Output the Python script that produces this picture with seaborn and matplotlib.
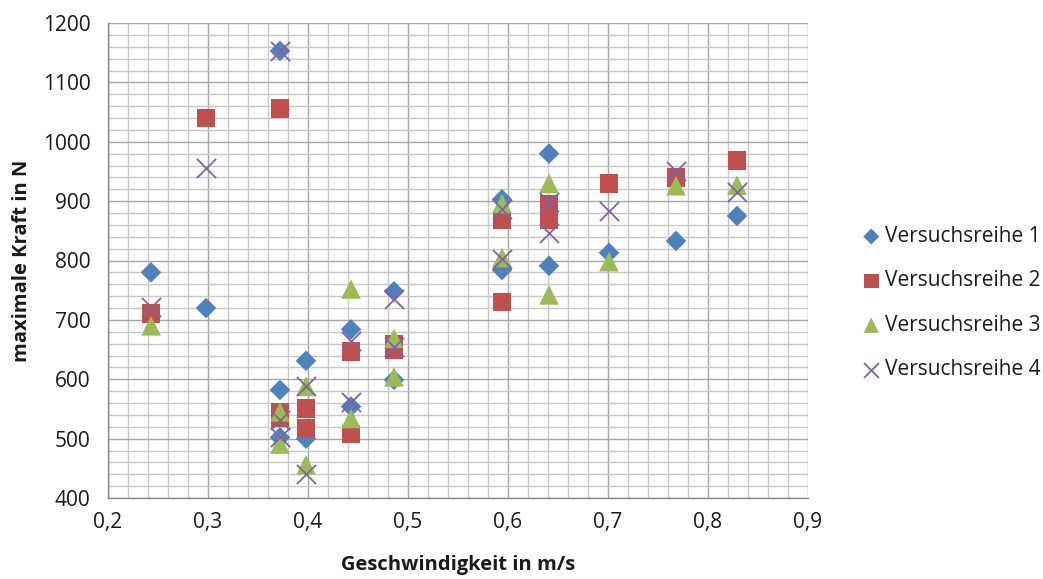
import matplotlib
matplotlib.use("Agg")
import matplotlib.pyplot as plt
from matplotlib.ticker import MultipleLocator, FuncFormatter
import seaborn as sns
import pandas as pd

# Geschwindigkeit (m/s) und maximale Kraft (N) je Versuchsreihe
x_r1 = [0.243, 0.298, 0.372, 0.372, 0.372, 0.398, 0.398, 0.443, 0.443,
        0.486, 0.486, 0.594, 0.594, 0.641, 0.641, 0.701, 0.768, 0.829]
y_r1 = [780, 720, 1153, 582, 502, 631, 500, 684, 554,
        748, 599, 903, 784, 980, 791, 813, 833, 875]

x_r2 = [0.243, 0.298, 0.372, 0.372, 0.372, 0.398, 0.398, 0.443, 0.443,
        0.486, 0.486, 0.594, 0.594, 0.641, 0.641, 0.701, 0.768, 0.829]
y_r2 = [711, 1040, 1056, 545, 535, 551, 518, 647, 508,
        659, 649, 868, 730, 895, 868, 930, 940, 968]

x_r3 = [0.243, 0.372, 0.372, 0.398, 0.398, 0.443, 0.443,
        0.486, 0.486, 0.594, 0.594, 0.641, 0.641, 0.701, 0.768, 0.829]
y_r3 = [690, 545, 491, 588, 456, 752, 534,
        669, 604, 896, 805, 930, 742, 798, 926, 927]

x_r4 = [0.243, 0.298, 0.372, 0.372, 0.372, 0.398, 0.398, 0.443, 0.443,
        0.486, 0.486, 0.594, 0.594, 0.641, 0.641, 0.701, 0.768, 0.829]
y_r4 = [721, 955, 1153, 532, 502, 588, 440, 665, 562,
        736, 655, 886, 802, 899, 846, 883, 950, 915]

series_names = ["Versuchsreihe 1", "Versuchsreihe 2", "Versuchsreihe 3", "Versuchsreihe 4"]

sns.set_theme(style="white")
plt.rcParams["font.family"] = ["Open Sans", "DejaVu Sans"]

fig = plt.figure(figsize=(10.43, 5.79), dpi=100)
ax = fig.add_axes([108 / 1043, 1 - 498 / 579, 700 / 1043, 475 / 579])

styles = [
    dict(marker="D", color="#4F81BD", s=110, edgecolor="none"),
    dict(marker="s", color="#C0504D", s=180, edgecolor="none"),
    dict(marker="^", color="#9BBB59", s=200, edgecolor="none"),
    dict(marker="x", color="#8064A2", s=190, linewidth=1.3),
]

for name, xs, ys, st in zip(series_names, [x_r1, x_r2, x_r3, x_r4],
                            [y_r1, y_r2, y_r3, y_r4], styles):
    df = pd.DataFrame({"Geschwindigkeit": xs, "Kraft": ys})
    sns.scatterplot(data=df, x="Geschwindigkeit", y="Kraft", ax=ax,
                    label=name, zorder=3, **st)

ax.set_xlim(0.2, 0.9)
ax.set_ylim(400, 1200)
ax.xaxis.set_major_locator(MultipleLocator(0.1))
ax.xaxis.set_minor_locator(MultipleLocator(0.02))
ax.yaxis.set_major_locator(MultipleLocator(100))
ax.yaxis.set_minor_locator(MultipleLocator(20))
ax.xaxis.set_major_formatter(FuncFormatter(lambda v, p: f"{v:.1f}".replace(".", ",")))
ax.yaxis.set_major_formatter(FuncFormatter(lambda v, p: f"{v:.0f}"))

ax.grid(which="major", color="#A6A6A6", linewidth=1.0)
ax.grid(which="minor", color="#C8C8C8", linewidth=1.0)
ax.set_axisbelow(True)

for side in ["top", "right"]:
    ax.spines[side].set_visible(False)
for side in ["left", "bottom"]:
    ax.spines[side].set_color("#868686")
    ax.spines[side].set_linewidth(1.0)

ax.tick_params(which="major", direction="out", length=6, width=1.0,
               color="#868686", labelsize=15, labelcolor="#1a1a1a")
ax.tick_params(axis="x", pad=4)
ax.tick_params(axis="y", pad=6.5)
ax.tick_params(which="minor", length=0)

ax.set_xlabel("Geschwindigkeit in m/s", fontsize=14.5, fontweight="bold",
              color="#1a1a1a")
ax.set_ylabel("maximale Kraft in N", fontsize=14.5, fontweight="bold",
              color="#1a1a1a")
ax.xaxis.set_label_coords(0.5, -0.121)
ax.yaxis.set_label_coords(-0.108, 0.5)

handles, labels = ax.get_legend_handles_labels()
leg = fig.legend(handles, labels, loc="center left",
                 bbox_to_anchor=(840 / 1043, 1 - 303 / 579),
                 frameon=False, fontsize=15, markerscale=0.78,
                 handletextpad=0.05, labelspacing=1.12, handlelength=1.2)
for t in leg.get_texts():
    t.set_color("#1a1a1a")
if ax.legend_:
    ax.legend_.remove()

fig.savefig("out.png", dpi=100)
